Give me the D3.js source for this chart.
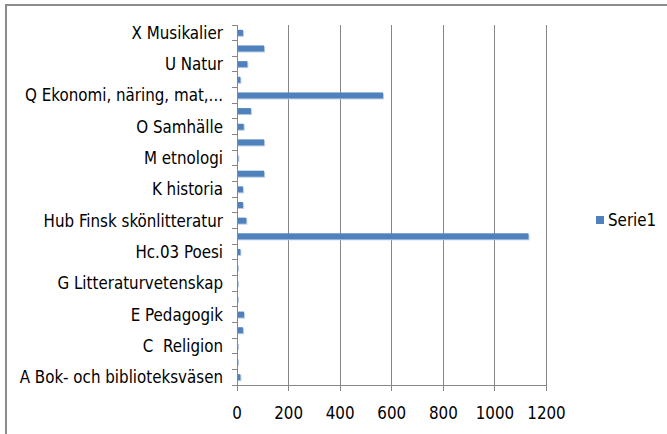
<!DOCTYPE html>
<html>
<head>
<meta charset="utf-8">
<script src="https://cdn.jsdelivr.net/npm/d3@7"></script>
<style>
  html, body { margin: 0; padding: 0; background: #fff; }
  svg text { font-family: "DejaVu Sans Condensed", "Liberation Sans Narrow", sans-serif; fill: #000; white-space: pre; }
</style>
</head>
<body>
<svg id="chart" width="667" height="434"></svg>
<script>
// Categories from bottom to top
const categories = [
  "A Bok- och biblioteksväsen",
  "B Allmänt och blandat",
  "C  Religion",
  "D Filosofi och psykologi",
  "E Pedagogik",
  "F Språkvetenskap",
  "G Litteraturvetenskap",
  "H Skönlitteratur",
  "Hc.03 Poesi",
  "Hc Svensk skönlitteratur",
  "Hub Finsk skönlitteratur",
  "I Konst, musik, teater och film",
  "K historia",
  "L Biografi",
  "M etnologi",
  "N Geografi",
  "O Samhälle",
  "P Teknik",
  "Q Ekonomi, näring, mat,...",
  "R Idrott",
  "U Natur",
  "V Medicin",
  "X Musikalier"
];
const values = [13, 4, 4, 23, 27, 4, 4, 4, 13, 1130, 36, 23, 23, 105, 5, 105, 26, 54, 566, 13, 40, 105, 23];
const seriesName = "Serie1";
const xTicks = [0, 200, 400, 600, 800, 1000, 1200];
const shownLabels = categories.filter((d, i) => i % 2 === 0);

const svg = d3.select("#chart");
const pLeft = 237, pRight = 546.5, pTop = 25, pBottom = 385;
const axisColor = "#868686";
const fs = 16.8;

// outer border
svg.append("path").attr("d", "M6,434 L6,5 L667,5")
  .attr("fill", "none").attr("stroke", "#8c8c8c").attr("stroke-width", 2);

const x = d3.scaleLinear().domain([0, 1200]).range([pLeft, pRight]);
const y = d3.scaleBand().domain(categories).range([pBottom, pTop]).padding(0);

// gridlines
svg.append("g").selectAll("line").data(xTicks.slice(1)).join("line")
  .attr("x1", d => x(d)).attr("x2", d => x(d))
  .attr("y1", pTop).attr("y2", pBottom)
  .attr("stroke", axisColor).attr("stroke-width", 1).attr("shape-rendering", "crispEdges");

// bars with light shadow
const barH = 6;
const bars = svg.append("g");
bars.selectAll("rect.sh").data(categories).join("rect").attr("class", "sh")
  .attr("x", x(0)).attr("y", d => y(d) + y.bandwidth() / 2 - barH / 2 + 1)
  .attr("width", (d, i) => Math.max(0, x(values[i]) - x(0) + 1)).attr("height", barH)
  .attr("fill", "#b9cde5");
bars.selectAll("rect.b").data(categories).join("rect").attr("class", "b")
  .attr("x", x(0)).attr("y", d => y(d) + y.bandwidth() / 2 - barH / 2)
  .attr("width", (d, i) => x(values[i]) - x(0)).attr("height", barH)
  .attr("fill", "#4f81bd");

// y axis line and ticks at category boundaries
const yAxis = svg.append("g");
yAxis.append("line").attr("x1", pLeft).attr("x2", pLeft).attr("y1", pTop).attr("y2", pBottom)
  .attr("stroke", axisColor).attr("shape-rendering", "crispEdges");
const boundaries = categories.map(d => y(d)).concat([pBottom]);
yAxis.selectAll("line.t").data(boundaries).join("line").attr("class", "t")
  .attr("x1", pLeft - 5).attr("x2", pLeft).attr("y1", d => d).attr("y2", d => d)
  .attr("stroke", axisColor).attr("shape-rendering", "crispEdges");
yAxis.selectAll("text").data(shownLabels).join("text")
  .attr("x", pLeft - 14).attr("y", d => y(d) + y.bandwidth() / 2)
  .attr("text-anchor", "end").attr("dominant-baseline", "central")
  .attr("font-size", fs).text(d => d);

// x axis
const xAxis = svg.append("g");
xAxis.append("line").attr("x1", pLeft).attr("x2", pRight).attr("y1", pBottom).attr("y2", pBottom)
  .attr("stroke", axisColor).attr("shape-rendering", "crispEdges");
xAxis.selectAll("line.t").data(xTicks).join("line").attr("class", "t")
  .attr("x1", d => x(d)).attr("x2", d => x(d)).attr("y1", pBottom).attr("y2", pBottom + 6)
  .attr("stroke", axisColor).attr("shape-rendering", "crispEdges");
xAxis.selectAll("text").data(xTicks).join("text")
  .attr("x", d => x(d)).attr("y", 413)
  .attr("text-anchor", "middle").attr("dominant-baseline", "central")
  .attr("font-size", fs).text(d => d);

// legend
const lg = svg.append("g");
lg.append("rect").attr("x", 596).attr("y", 216).attr("width", 8).attr("height", 8).attr("fill", "#4f81bd");
lg.append("text").attr("x", 608).attr("y", 220).attr("dominant-baseline", "central")
  .attr("font-size", fs).text(seriesName);
</script>
</body>
</html>
